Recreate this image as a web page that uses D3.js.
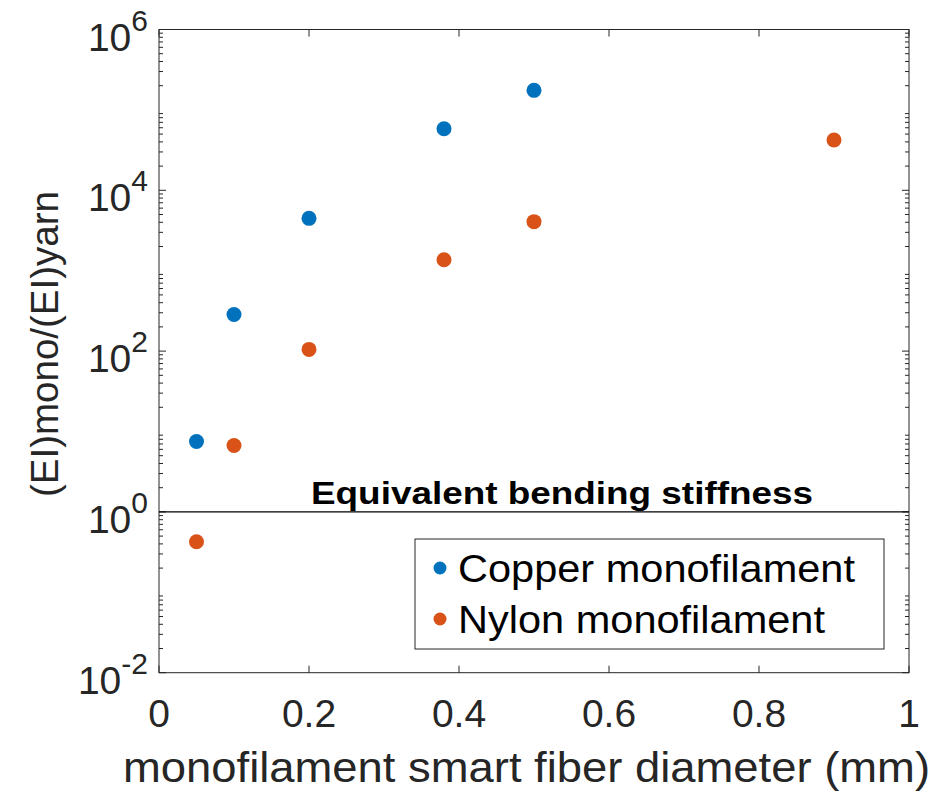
<!DOCTYPE html>
<html>
<head>
<meta charset="utf-8">
<script src="https://cdn.jsdelivr.net/npm/d3@7.9.0/dist/d3.min.js"></script>
<style>
  body { margin: 0; background: #fff; }
  svg { display: block; font-family: "Liberation Sans", Arial, sans-serif; }
</style>
</head>
<body>
<svg id="chart" width="939" height="793"></svg>
<script>
// data
const copperX = [0.05, 0.1, 0.2, 0.38, 0.5];
const copperY = [7.5, 285, 4480, 58200, 175000];
const nylonX = [0.05, 0.1, 0.2, 0.38, 0.5, 0.9];
const nylonY = [0.425, 6.7, 105, 1370, 4075, 42200];
const xTicks = [0, 0.2, 0.4, 0.6, 0.8, 1];
const yExponents = [-2, 0, 2, 4, 6];
const seriesNames = ['Copper monofilament', 'Nylon monofilament'];
const seriesColors = ['#0072BD', '#D95319'];

const svg = d3.select('#chart');
const plotL = 159, plotR = 909, plotT = 29.5, plotB = 672.7;
const axisColor = '#262626';

const x = d3.scaleLinear().domain([0, 1]).range([plotL, plotR]);
const y = d3.scaleLog().domain([1e-2, 1e6]).range([plotB, plotT]);

// box
svg.append('rect')
  .attr('x', plotL).attr('y', plotT)
  .attr('width', plotR - plotL).attr('height', plotB - plotT)
  .attr('fill', 'none').attr('stroke', axisColor).attr('stroke-width', 1);

// x ticks (bottom + top)
xTicks.forEach(t => {
  svg.append('line').attr('x1', x(t)).attr('x2', x(t)).attr('y1', plotB).attr('y2', plotB - 7)
    .attr('stroke', axisColor);
  svg.append('line').attr('x1', x(t)).attr('x2', x(t)).attr('y1', plotT).attr('y2', plotT + 7)
    .attr('stroke', axisColor);
  svg.append('text').attr('x', x(t)).attr('y', plotB + 54)
    .attr('text-anchor', 'middle').attr('font-size', 39).attr('fill', axisColor)
    .text(d3.format('~g')(t));
});

// y ticks: major + minor on left and right
const minor = [];
for (let e = -2; e < 6; e++) for (let m = 2; m <= 9; m++) minor.push(m * Math.pow(10, e));
minor.forEach(v => {
  svg.append('line').attr('x1', plotL).attr('x2', plotL + 4).attr('y1', y(v)).attr('y2', y(v)).attr('stroke', axisColor);
  svg.append('line').attr('x1', plotR).attr('x2', plotR - 4).attr('y1', y(v)).attr('y2', y(v)).attr('stroke', axisColor);
});
yExponents.forEach(e => {
  const v = Math.pow(10, e);
  svg.append('line').attr('x1', plotL).attr('x2', plotL + 7).attr('y1', y(v)).attr('y2', y(v)).attr('stroke', axisColor);
  svg.append('line').attr('x1', plotR).attr('x2', plotR - 7).attr('y1', y(v)).attr('y2', y(v)).attr('stroke', axisColor);
  const g = svg.append('text').attr('y', y(v) + 21).attr('text-anchor', 'end')
    .attr('x', 148).attr('fill', axisColor).attr('font-size', 39);
  g.append('tspan').text('10');
  g.append('tspan').attr('dy', -20).attr('font-size', 30).text(e);
});

// reference line at 1
svg.append('line').attr('x1', plotL).attr('x2', plotR).attr('y1', y(1)).attr('y2', y(1))
  .attr('stroke', '#000').attr('stroke-width', 1.2);
svg.append('text').attr('x', 311).attr('y', y(1) - 7.5)
  .attr('font-size', 32).attr('font-weight', 'bold').attr('fill', '#000')
  .attr('textLength', 502).attr('lengthAdjust', 'spacingAndGlyphs')
  .text('Equivalent bending stiffness');

// points
const series = [[copperX, copperY], [nylonX, nylonY]];
series.forEach(([xs, ys], i) => {
  svg.append('g').selectAll('circle').data(xs.map((d, j) => [d, ys[j]])).join('circle')
    .attr('cx', d => x(d[0])).attr('cy', d => y(d[1])).attr('r', 7.5)
    .attr('fill', seriesColors[i]);
});

// legend
const legendLen = [397, 367];
const lg = svg.append('g');
lg.append('rect').attr('x', 415).attr('y', 539).attr('width', 469).attr('height', 110)
  .attr('fill', '#fff').attr('stroke', axisColor).attr('stroke-width', 1);
seriesNames.forEach((name, i) => {
  const cy = 568 + i * 51;
  lg.append('circle').attr('cx', 440).attr('cy', cy).attr('r', 6.5).attr('fill', seriesColors[i]);
  lg.append('text').attr('x', 458).attr('y', cy + 14).attr('font-size', 38).attr('fill', '#000')
    .attr('textLength', legendLen[i]).attr('lengthAdjust', 'spacingAndGlyphs').text(name);
});

// axis labels
svg.append('text').attr('x', 123).attr('y', 782)
  .attr('font-size', 43).attr('fill', axisColor)
  .attr('textLength', 807).attr('lengthAdjust', 'spacingAndGlyphs')
  .text('monofilament smart fiber diameter (mm)');
svg.append('text').attr('transform', `translate(58,${344}) rotate(-90)`).attr('text-anchor', 'middle')
  .attr('font-size', 38.5).attr('fill', axisColor)
  .text('(EI)mono/(EI)yarn');
</script>
</body>
</html>
